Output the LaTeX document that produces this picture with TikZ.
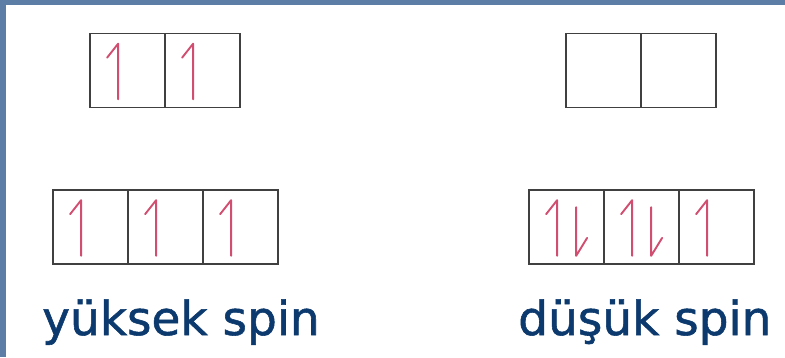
\documentclass[tikz,border=0pt]{standalone}
\usepackage{fontspec}
\setmainfont{DejaVu Sans}
\newfontfamily\labelfont[FakeBold=1.2]{DejaVu Sans}
\usepackage{tikz}
\usetikzlibrary{positioning, calc}
\definecolor{frameblue}{RGB}{92,126,166}
\definecolor{inkblue}{RGB}{12,58,110}
\definecolor{spinred}{RGB}{210,78,112}
\tikzset{
  cell/.style  = {draw=black!75, line width=1.7pt, minimum width=75pt,
                  minimum height=74pt, inner sep=0pt},
  spin/.style  = {draw=spinred, line width=1.9pt, line cap=round, line join=round},
  lbl/.style   = {text=inkblue, font=\labelfont\fontsize{47}{56}\selectfont,
                  anchor=base west, inner sep=0pt},
}
% up and down half arrows inside a cell
\newcommand{\spinup}[1]{\draw[spin] ($(#1.south west)+(29,-9)$) -- ($(#1.north west)+(29,11)$) -- ($(#1.north west)+(18,25)$);}
\newcommand{\spindown}[1]{\draw[spin] ($(#1.north west)+(48,18)$) -- ($(#1.south west)+(48,-9)$) -- ($(#1.south west)+(59,-27)$);}

\begin{document}
\begin{tikzpicture}[x=1pt, y=-1pt]
  \useasboundingbox (0,0) rectangle (785,357);
  \fill[white] (0,0) rectangle (785,357);
  \fill[frameblue] (0,0) rectangle (785,5);
  \fill[frameblue] (0,0) rectangle (6,357);

  % high spin
  \foreach \i in {1,2}{
    \node[cell] (hs\i) at ({90+75*(\i-1)+37.5},70.5) {};
    \spinup{hs\i}
  }
  \foreach \i in {1,2,3}{
    \node[cell] (ht\i) at ({53+75*(\i-1)+37.5},227) {};
    \spinup{ht\i}
  }

  % low spin
  \foreach \i in {1,2}{
    \node[cell] (ls\i) at ({566+75*(\i-1)+37.5},70.5) {};
  }
  \foreach \i in {1,2,3}{
    \node[cell] (lt\i) at ({529+75*(\i-1)+37.5},227) {};
    \spinup{lt\i}
  }
  \spindown{lt1}
  \spindown{lt2}

  \node[lbl] (high) at (42,335) {yüksek spin};
  \node[lbl] (low) at (518,335) {düşük spin};
\end{tikzpicture}
\end{document}
